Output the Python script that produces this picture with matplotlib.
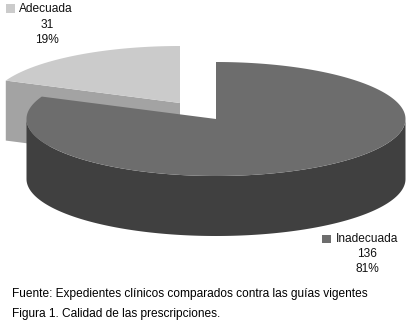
import numpy as np
import matplotlib
matplotlib.use("Agg")
import matplotlib.pyplot as plt

categories = ["Adecuada", "Inadecuada"]
counts = [31, 136]
percent_labels = ["19%", "81%"]
notes = ["Fuente: Expedientes clínicos comparados contra las guías vigentes",
         "Figura 1. Calidad de las prescripciones."]

plt.rcParams['font.family'] = ['Liberation Sans', 'DejaVu Sans']

W, H = 408, 322
fig = plt.figure(figsize=(W / 100, H / 100), dpi=100)
ax = fig.add_axes([0, 0, 1, 1])
ax.set_xlim(0, W)
ax.set_ylim(H, 0)
ax.axis("off")

# ellipse size of the tilted pie and the wall height, in pixels
rx, ry = 189.5, 57
depth = 60


def arc(cx, cy, a0, a1):
    # angles clockwise from 12 o'clock, in degrees
    t = np.radians(np.linspace(a0, a1, 300))
    return cx + rx * np.sin(t), cy - ry * np.cos(t)


small_angle = 360 * counts[0] / sum(counts)

# small slice, pulled out to the upper left
cx, cy = 180, 103
x, y = arc(cx, cy, -small_angle, 0)
ax.fill([cx, x[0], x[0], cx], [cy, y[0], y[0] + depth, cy + depth], color="#a3a3a3", lw=0)
ax.fill(np.r_[cx, x], np.r_[cy, y], color="#cbcbcb", lw=0)

# big slice
cx, cy = 216, 119
x, y = arc(cx, cy, 90, 270)
ax.fill(np.r_[x, x[::-1]], np.r_[y, y[::-1] + depth], color="#404040", lw=0)
x, y = arc(cx, cy, 0, 360 - small_angle)
ax.fill(np.r_[cx, x], np.r_[cy, y], color="#6d6d6d", lw=0)

# labels
fs = 8.6
ax.fill([6, 15, 15, 6], [4, 4, 13, 13], color="#cbcbcb", lw=0)
ax.text(19, 9, categories[0], fontsize=fs, color="#111111", ha="left", va="center")
ax.text(47, 24.5, str(counts[0]), fontsize=fs, color="#111111", ha="center", va="center")
ax.text(47, 40, percent_labels[0], fontsize=fs, color="#111111", ha="center", va="center")

ax.fill([322, 331, 331, 322], [235, 235, 243, 243], color="#6d6d6d", lw=0)
ax.text(336, 239, categories[1], fontsize=fs, color="#111111", ha="left", va="center")
ax.text(367, 254, str(counts[1]), fontsize=fs, color="#111111", ha="center", va="center")
ax.text(367, 269, percent_labels[1], fontsize=fs, color="#111111", ha="center", va="center")

ax.text(12, 294, notes[0], fontsize=fs, color="#000000", ha="left", va="center")
ax.text(12, 314, notes[1], fontsize=fs, color="#000000", ha="left", va="center")

fig.savefig("out.png", dpi=100, facecolor="white")
